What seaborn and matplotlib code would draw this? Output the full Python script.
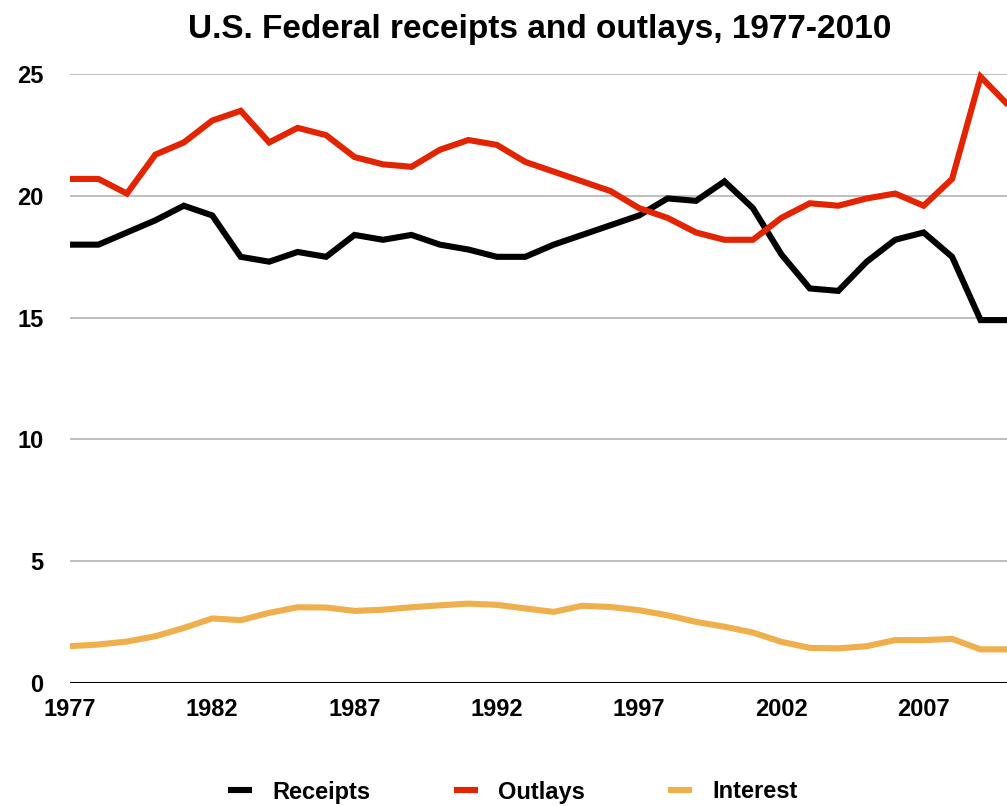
import matplotlib
matplotlib.use("Agg")
import matplotlib.pyplot as plt
import seaborn as sns
import pandas as pd

# Données (% du PIB)
years = list(range(1977, 2011))
receipts = [18.0, 18.0, 18.5, 19.0, 19.6, 19.2, 17.5, 17.3, 17.7, 17.5,
            18.4, 18.2, 18.4, 18.0, 17.8, 17.5, 17.5, 18.0, 18.4, 18.8,
            19.2, 19.9, 19.8, 20.6, 19.5, 17.6, 16.2, 16.1, 17.3, 18.2,
            18.5, 17.5, 14.9, 14.9]
outlays = [20.7, 20.7, 20.1, 21.7, 22.2, 23.1, 23.5, 22.2, 22.8, 22.5,
           21.6, 21.3, 21.2, 21.9, 22.3, 22.1, 21.4, 21.0, 20.6, 20.2,
           19.5, 19.1, 18.5, 18.2, 18.2, 19.1, 19.7, 19.6, 19.9, 20.1,
           19.6, 20.7, 24.9, 23.7]
interest = [1.5, 1.57, 1.69, 1.91, 2.25, 2.64, 2.57, 2.87, 3.1, 3.09,
            2.95, 3.0, 3.1, 3.18, 3.25, 3.2, 3.05, 2.91, 3.16, 3.11,
            2.98, 2.77, 2.5, 2.3, 2.06, 1.68, 1.43, 1.41, 1.5, 1.75,
            1.75, 1.8, 1.37, 1.37]
series = ['Receipts', 'Outlays', 'Interest']
colors = ['#000000', '#e32400', '#efaf4d']
yticks = [0, 5, 10, 15, 20, 25]
xticks = [1977, 1982, 1987, 1992, 1997, 2002, 2007]

df = pd.DataFrame({'year': years, 'Receipts': receipts,
                   'Outlays': outlays, 'Interest': interest})
long_df = df.melt(id_vars='year', var_name='serie', value_name='valeur')

sns.set_theme(style='white')
plt.rcParams['font.family'] = ['Liberation Sans', 'DejaVu Sans']
plt.rcParams['font.weight'] = 'bold'
plt.rcParams['text.color'] = 'black'
plt.rcParams['xtick.color'] = 'black'
plt.rcParams['ytick.color'] = 'black'

W, H = 1007, 806
fig = plt.figure(figsize=(W / 100, H / 100), dpi=100)
ax = fig.add_axes([70 / W, 1 - 682.7 / H, 939 / W, (682.7 - 74.3) / H])

sns.lineplot(data=long_df, x='year', y='valeur', hue='serie', hue_order=series,
             palette=colors, linewidth=4.4, ax=ax, legend=False, clip_on=False,
             zorder=3, solid_joinstyle='miter', solid_capstyle='butt')

ax.set_xlim(1977, 2010)
ax.set_ylim(0, 25)
ax.set_xticks(xticks)
ax.set_yticks(yticks)
ax.set_xticklabels([str(y) for y in xticks], fontsize=17, fontweight='bold')
ax.set_yticklabels([str(v) for v in yticks], fontsize=17, fontweight='bold')
ax.tick_params(axis='y', length=0, pad=19)
ax.tick_params(axis='x', length=0, pad=11)
ax.set_xlabel('')
ax.set_ylabel('')

for v in yticks[1:]:
    ax.axhline(v, color='#b4b4b4', linewidth=1.2, zorder=1)
ax.axhline(0, color='black', linewidth=1.5, zorder=2, xmin=-0.002)
for side in ['top', 'right', 'left', 'bottom']:
    ax.spines[side].set_visible(False)

fig.text(540 / W, 1 - 38 / H, 'U.S. Federal receipts and outlays, 1977-2010',
         ha='center', va='baseline', fontsize=24, fontweight='bold', color='black')

handles = [plt.Line2D([], [], color=c, linewidth=4.4, solid_capstyle='butt')
           for c in colors]
fig.legend(handles, series, loc='center', bbox_to_anchor=(513 / W, 1 - 792 / H),
           ncols=3, frameon=False, handlelength=1.0, handletextpad=0.85,
           columnspacing=3.55, prop={'size': 17, 'weight': 'bold'})

fig.savefig('out.png', dpi=100)
